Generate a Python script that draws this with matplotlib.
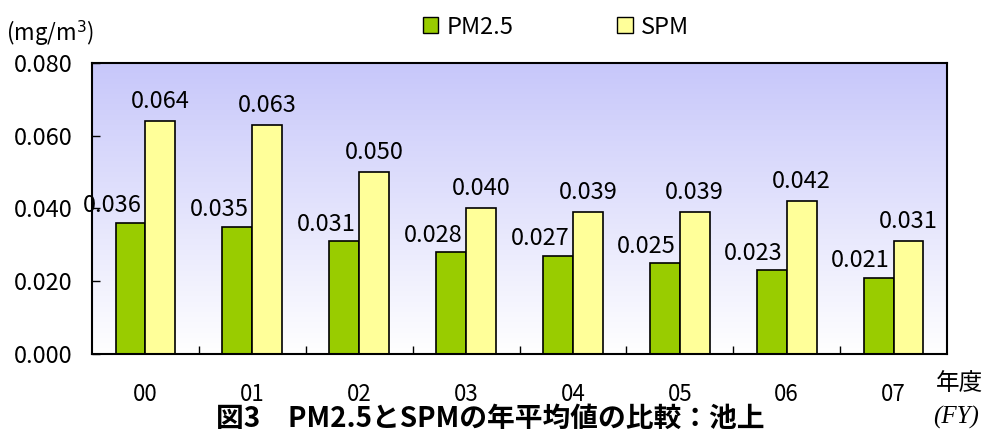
import numpy as np
import matplotlib.pyplot as plt
from matplotlib.patches import Patch

plt.rcParams['font.family'] = ['Noto Sans CJK JP', 'DejaVu Sans']

years = ['00', '01', '02', '03', '04', '05', '06', '07']
pm25 = [0.036, 0.035, 0.031, 0.028, 0.027, 0.025, 0.023, 0.021]
spm = [0.064, 0.063, 0.050, 0.040, 0.039, 0.039, 0.042, 0.031]

green = '#99CC00'
yellow = '#FFFF99'

fig = plt.figure(figsize=(9.9, 4.32), dpi=100)
ax = fig.add_axes([92/990, 78/432, 855/990, 291/432])

# gradient background: lavender at top fading to white
grad = np.linspace(0, 1, 256).reshape(-1, 1)
top = np.array([0.78, 0.78, 0.98])
bot = np.array([1.0, 1.0, 1.0])
img = bot + (top - bot) * grad[..., None]
ax.imshow(img, extent=[0, 1, 0, 1], transform=ax.transAxes, origin='lower',
          aspect='auto', zorder=0)

x = np.arange(len(years))
w = 0.28
ax.bar(x - 0.14, pm25, w, color=green, edgecolor='black', linewidth=1.2, zorder=2)
ax.bar(x + 0.14, spm, w, color=yellow, edgecolor='black', linewidth=1.2, zorder=2)

for i in range(len(years)):
    ax.annotate(f'{pm25[i]:.3f}', (x[i] - 0.14, pm25[i]), xytext=(-13, 4),
                textcoords='offset points', ha='center', va='bottom', fontsize=17, zorder=3)
    ax.annotate(f'{spm[i]:.3f}', (x[i] + 0.14, spm[i]), xytext=(0, 6),
                textcoords='offset points', ha='center', va='bottom', fontsize=17, zorder=3)

ax.set_xlim(-0.5, len(years) - 0.5)
ax.set_ylim(0, 0.08)
ax.set_yticks([0, 0.02, 0.04, 0.06, 0.08])
ax.set_yticklabels(['0.000', '0.020', '0.040', '0.060', '0.080'])
ax.set_xticks(x)
ax.set_xticklabels(years)
ax.set_xticks(np.arange(0.5, len(years) - 0.5, 1), minor=True)
ax.tick_params(axis='y', direction='in', length=6, width=1, pad=14, labelsize=17)
ax.tick_params(axis='x', which='major', length=0, pad=21, labelsize=16)
ax.tick_params(axis='x', which='minor', direction='in', length=6, width=1)
for s in ax.spines.values():
    s.set_linewidth(1.5)

fig.text(6/990, 1 - 33/432, '(mg/m$^3$)', fontsize=16, va='center', ha='left')
fig.text(936/990, 1 - 384/432, '年度', fontsize=17, va='center', ha='left')
fig.text(933/990, 1 - 417/432, '(FY)', fontsize=18, va='center', ha='left',
         family='Liberation Serif', style='italic')
fig.text(490/990, 1 - 405/432, '図3　PM2.5とSPMの年平均値の比較：池上',
         fontsize=20, fontweight='bold', ha='center', va='top')

handles = [Patch(facecolor=green, edgecolor='black', label='PM2.5'),
           Patch(facecolor=yellow, edgecolor='black', label='SPM')]
fig.legend(handles=handles, loc='center', bbox_to_anchor=(556/990, 1 - 27/432),
           ncol=2, frameon=False, fontsize=17, handlelength=0.65, handleheight=0.65,
           handletextpad=0.35, columnspacing=4.4)

fig.savefig('out.png')
